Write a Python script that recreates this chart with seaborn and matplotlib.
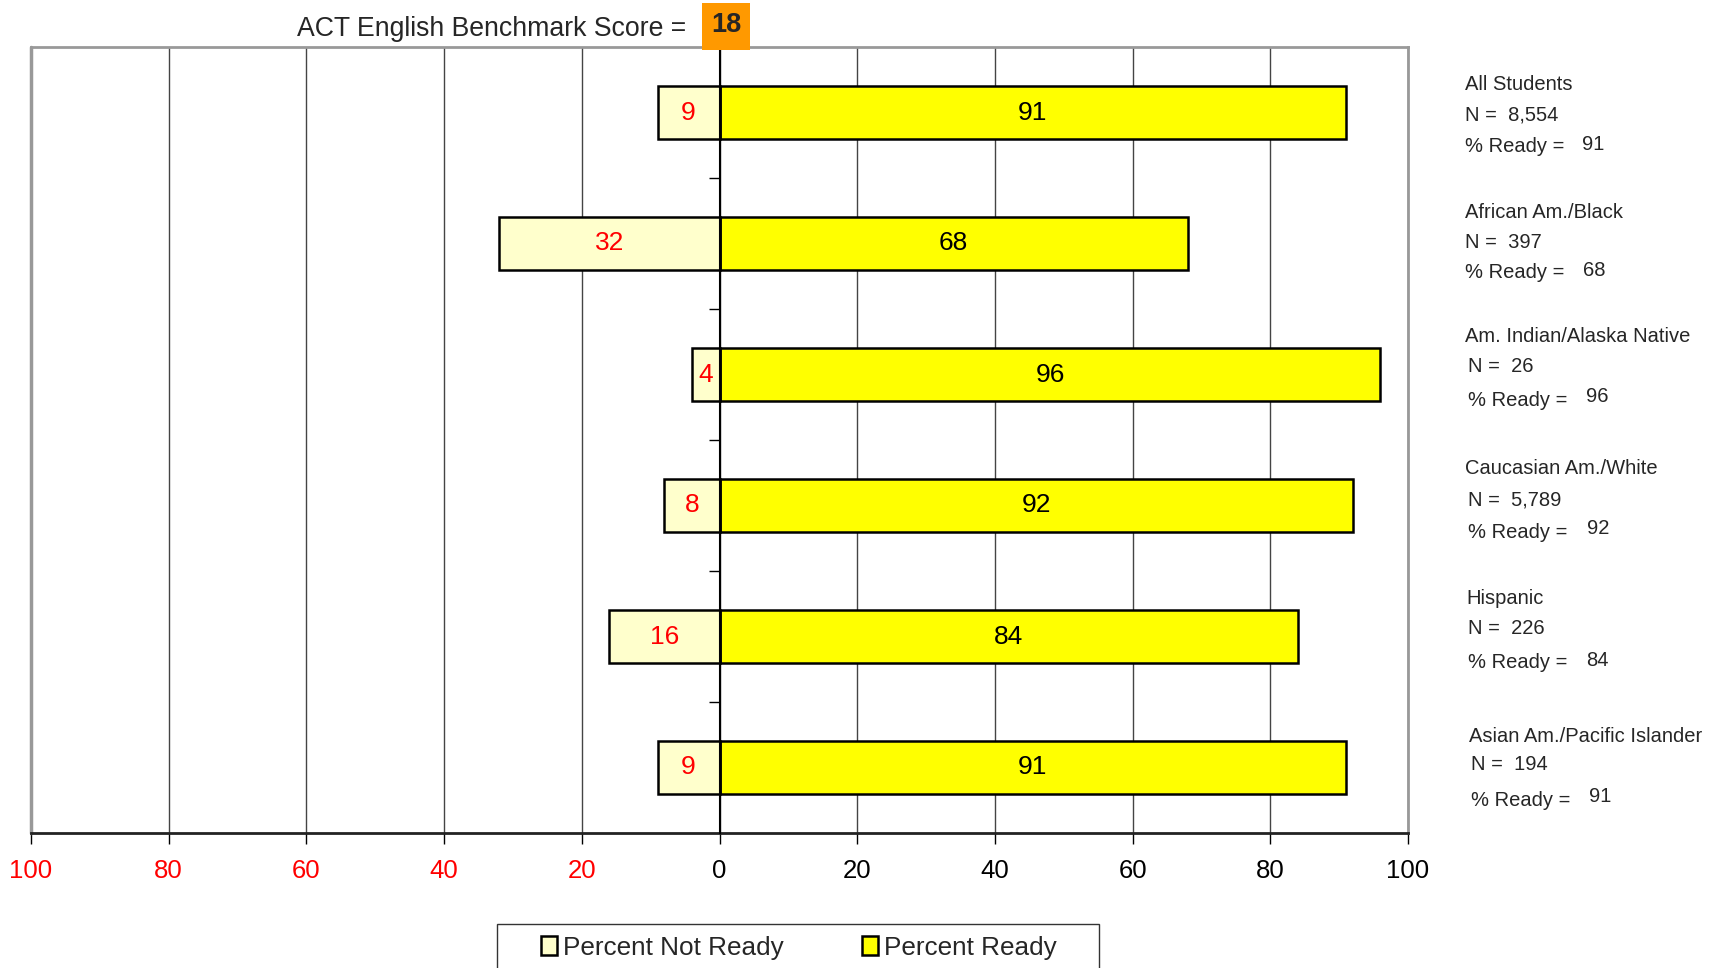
import seaborn as sns
from matplotlib import pyplot as plt
from matplotlib.patches import Patch, Rectangle
import pandas as pd

groups = ["All Students", "African Am./Black", "Am. Indian/Alaska Native",
          "Caucasian Am./White", "Hispanic", "Asian Am./Pacific Islander"]
pct_ready = [91, 68, 96, 92, 84, 91]
pct_not_ready = [9, 32, 4, 8, 16, 9]
n_students = ["8,554", "397", "26", "5,789", "226", "194"]
benchmark = 18
tick_values = [-100, -80, -60, -40, -20, 0, 20, 40, 60, 80, 100]

READY = "#FFFF00"
NOT_READY = "#FFFFCC"

sns.set_style("white")
plt.rcParams['font.family'] = ['Liberation Sans', 'DejaVu Sans']

W, H = 1718, 968
fig = plt.figure(figsize=(W / 100, H / 100), dpi=100)
ax = fig.add_axes([31 / W, 1 - 833 / H, (1408 - 31) / W, (833 - 47) / H])

df = pd.DataFrame({"group": groups,
                   "ready": pct_ready,
                   "not_ready": [-v for v in pct_not_ready]})

sns.barplot(data=df, x="ready", y="group", orient="h", color=READY, saturation=1,
            edgecolor="black", linewidth=1.8, width=0.4, ax=ax, zorder=3)
sns.barplot(data=df, x="not_ready", y="group", orient="h", color=NOT_READY, saturation=1,
            edgecolor="black", linewidth=1.8, width=0.4, ax=ax, zorder=3)

ax.bar_label(ax.containers[0], labels=[str(v) for v in pct_ready],
             label_type="center", color="black", fontsize=19)
ax.bar_label(ax.containers[1], labels=[str(v) for v in pct_not_ready],
             label_type="center", color="red", fontsize=19)

ax.set_xlim(-100, 100)
ax.set_ylim(len(groups) - 0.5, -0.5)
ax.set_xlabel("")
ax.set_ylabel("")

# x axis: mirrored percentages, red on the "not ready" side
ax.set_xticks(tick_values)
ax.set_xticklabels([str(abs(v)) for v in tick_values], fontsize=18.5)
for lab, v in zip(ax.get_xticklabels(), tick_values):
    lab.set_color("red" if v < 0 else "black")
ax.tick_params(axis="x", length=8, width=1, color="black", pad=11, bottom=True)

# category axis sits at zero with ticks between groups
ax.spines["left"].set_position(("data", 0))
ax.spines["left"].set_color("black")
ax.spines["left"].set_linewidth(1.5)
ax.spines["left"].set_zorder(4)
ax.set_yticks([i + 0.5 for i in range(len(groups) - 1)])
ax.set_yticklabels([])
ax.tick_params(axis="y", length=8, width=1, color="black", left=True, direction="out")

ax.spines["bottom"].set_color("#222222")
ax.spines["bottom"].set_linewidth(2)
for s in ["top", "right"]:
    ax.spines[s].set_visible(True)
    ax.spines[s].set_color("#999999")
    ax.spines[s].set_linewidth(2)
ax.plot([0, 0], [0, 1], transform=ax.transAxes, color="#999999", lw=2.5, clip_on=False)

ax.xaxis.grid(True, color="#444444", linewidth=1)
ax.set_axisbelow(True)

# benchmark title
fig.text(297 / W, 1 - 29 / H, "ACT English Benchmark Score =", fontsize=19.2,
         ha="left", va="center")
fig.patches.append(Rectangle((702 / W, 1 - 50 / H), 48 / W, 47 / H,
                             transform=fig.transFigure, facecolor="#FF9900",
                             edgecolor="none"))
fig.text(726 / W, 1 - 25 / H, str(benchmark), fontsize=19.5, fontweight="bold",
         ha="center", va="center")

# right side group summaries
head_y = [85, 212, 336, 468, 598, 737]
n_y = [115, 243, 367, 500, 629, 765]
pct_y = [147, 273, 400, 532, 663, 800]
head_x = [1465, 1465, 1465, 1465, 1466, 1469]
n_x = [1465, 1465, 1468, 1468, 1468, 1471]
val_x = [1582, 1583, 1586, 1587, 1586, 1589]
for i, g in enumerate(groups):
    fig.text(head_x[i] / W, 1 - head_y[i] / H, g, fontsize=14.5, ha="left", va="center")
    fig.text(n_x[i] / W, 1 - n_y[i] / H, "N =  " + n_students[i], fontsize=14.5,
             ha="left", va="center")
    fig.text(n_x[i] / W, 1 - pct_y[i] / H, "% Ready =", fontsize=14.5,
             ha="left", va="center")
    fig.text(val_x[i] / W, 1 - (pct_y[i] - 3) / H, str(pct_ready[i]), fontsize=14.5,
             ha="left", va="center")

# legend with a plain box running off the bottom edge
fig.patches.append(Rectangle((497 / W, 1 - 1000 / H), 602 / W, 76 / H,
                             transform=fig.transFigure, facecolor="white",
                             edgecolor="#333333", linewidth=1))
handles = [Patch(facecolor=NOT_READY, edgecolor="black", linewidth=1.8),
           Patch(facecolor=READY, edgecolor="black", linewidth=1.8)]
fig.legend(handles, ["Percent Not Ready", "Percent Ready"], loc="center",
           bbox_to_anchor=(799 / W, 1 - 948 / H), ncol=2, frameon=False,
           fontsize=18.8, handlelength=0.6, handleheight=0.75,
           handletextpad=0.25, columnspacing=3.0)

plt.savefig("out.png", dpi=100)
plt.close()
